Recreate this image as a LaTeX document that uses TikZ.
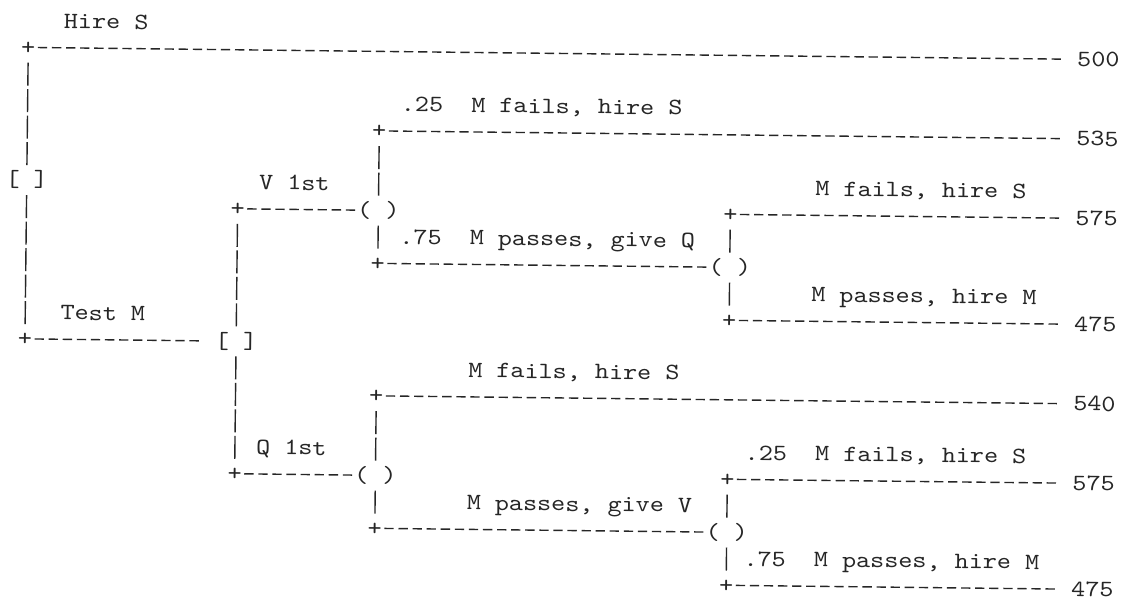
\documentclass[tikz,border=0pt]{standalone}
\usepackage{fontspec}
\usepackage{graphicx}
\newfontfamily\treefont{lmmono10-regular.otf}
\definecolor{ink}{gray}{0.15}
\newcommand{\sq}[1]{\scalebox{1}[.87]{\treefont\fontsize{26.82pt}{30pt}\selectfont\frenchspacing #1}}

\begin{document}
\begin{tikzpicture}[
    every node/.style={inner sep=0pt, text height=14pt, text depth=0pt, text=ink},
    cell/.style={minimum width=14.08pt, minimum height=26.5pt},
    box3/.style={minimum width=42.24pt, minimum height=26.5pt},
    lbl/.style={anchor=west},
    pay/.style={anchor=west},
    gapend/.style={shorten >=14.08pt},
    hline/.style={draw=ink, line width=1.4pt, dash pattern=on 9.3pt off 4.78pt, dash phase=11.69pt},
    vline/.style={draw=ink, line width=1.4pt, dash pattern=on 23pt off 3.5pt, dash phase=24.75pt}
]
    \path[use as bounding box, fill=white] (0pt,0pt) rectangle (1136pt,-601pt);

    \begin{scope}[rotate=-0.65, transform shape, x=14.08pt, y=-26.5pt, shift={(28.8pt,-20.6pt)}]
    % Draw nodes
    \node[box3] (root) at (0,6) {\sq{[ ]}};
    \node[cell] (hs) at (0,1) {\sq{+}};
    \node[cell] (tm) at (0,12) {\sq{+}};
    \node[box3] (test) at (15,12) {\sq{[ ]}};
    \node[cell] (v1) at (15,7) {\sq{+}};
    \node[cell] (q1) at (15,17) {\sq{+}};
    \node[box3] (cv) at (25,7) {\sq{( )}};
    \node[cell] (vf) at (25,4) {\sq{+}};
    \node[cell] (vp) at (25,9) {\sq{+}};
    \node[box3] (cvq) at (50,9) {\sq{( )}};
    \node[cell] (vqf) at (50,7) {\sq{+}};
    \node[cell] (vqp) at (50,11) {\sq{+}};
    \node[box3] (cq) at (25,17) {\sq{( )}};
    \node[cell] (qf) at (25,14) {\sq{+}};
    \node[cell] (qp) at (25,19) {\sq{+}};
    \node[box3] (cqv) at (50,19) {\sq{( )}};
    \node[cell] (qvf) at (50,17) {\sq{+}};
    \node[cell] (qvp) at (50,21) {\sq{+}};

    % Payoffs
    \node[pay] (p500) at (74.5,1) {\sq{500}};
    \node[pay] (p535) at (74.5,4) {\sq{535}};
    \node[pay] (p575a) at (74.5,7) {\sq{575}};
    \node[pay] (p475a) at (74.5,11) {\sq{475}};
    \node[pay] (p540) at (74.5,14) {\sq{540}};
    \node[pay] (p575b) at (74.5,17) {\sq{575}};
    \node[pay] (p475b) at (74.5,21) {\sq{475}};

    % Draw connections
    \draw[vline] (hs.south) -- (root.north);
    \draw[vline] (root.south) -- (tm.north);
    \draw[hline, gapend] (hs.east) -- (p500.west);
    \draw[hline, gapend] (tm.east) -- (test.west);
    \draw[vline] (v1.south) -- (test.north);
    \draw[vline] (test.south) -- (q1.north);
    \draw[hline] (v1.east) -- (cv.west);
    \draw[hline] (q1.east) -- (cq.west);
    \draw[vline] (vf.south) -- (cv.north);
    \draw[vline] (cv.south) -- (vp.north);
    \draw[hline, gapend] (vf.east) -- (p535.west);
    \draw[hline] (vp.east) -- (cvq.west);
    \draw[vline] (vqf.south) -- (cvq.north);
    \draw[vline] (cvq.south) -- (vqp.north);
    \draw[hline, gapend] (vqf.east) -- (p575a.west);
    \draw[hline, gapend] (vqp.east) -- (p475a.west);
    \draw[vline] (qf.south) -- (cq.north);
    \draw[vline] (cq.south) -- (qp.north);
    \draw[hline, gapend] (qf.east) -- (p540.west);
    \draw[hline] (qp.east) -- (cqv.west);
    \draw[vline] (qvf.south) -- (cqv.north);
    \draw[vline] (cqv.south) -- (qvp.north);
    \draw[hline, gapend] (qvf.east) -- (p575b.west);
    \draw[hline, gapend] (qvp.east) -- (p475b.west);

    % Labels
    \node[lbl] (lhire) at (2.5,0) {\sq{Hire S}};
    \node[lbl] (lvf) at (26.5,3) {\sq{.25~~M fails, hire S}};
    \node[lbl] (lv1) at (16.5,6) {\sq{V 1st}};
    \node[lbl] (lvqf) at (56,6) {\sq{M fails, hire S}};
    \node[lbl] (lvp) at (26.5,8) {\sq{.75~~M passes, give Q}};
    \node[lbl] (lvqp) at (55.8,10) {\sq{M passes, hire M}};
    \node[lbl] (ltest) at (2.5,11) {\sq{Test M}};
    \node[lbl] (lqf) at (31.5,13) {\sq{M fails, hire S}};
    \node[lbl] (lqvf) at (51.2,16) {\sq{.25~~M fails, hire S}};
    \node[lbl] (lq1) at (16.5,16) {\sq{Q 1st}};
    \node[lbl] (lqp) at (31.5,18) {\sq{M passes, give V}};
    \node[lbl] (lqvp) at (51.2,20) {\sq{.75~~M passes, hire M}};
    \end{scope}
\end{tikzpicture}
\end{document}
